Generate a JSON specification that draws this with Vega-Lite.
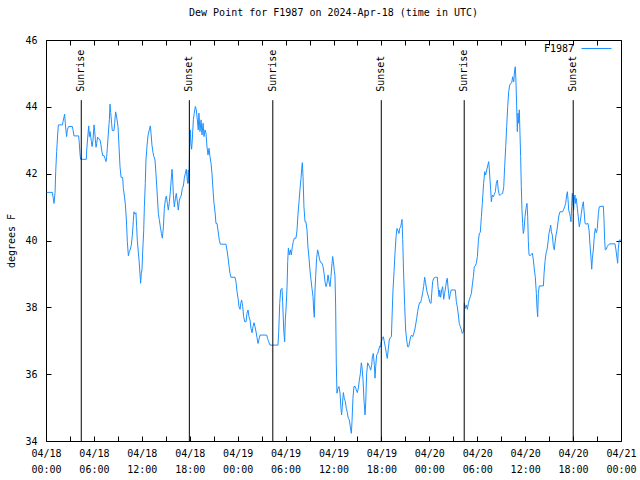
{
"$schema": "https://vega.github.io/schema/vega-lite/v6.json",
"width": 575, "height": 401,
"autosize": "none",
"padding": {"left": 46, "top": 40, "right": 19, "bottom": 39},
"background": "white",
"title": {"text": "Dew Point for F1987 on 2024-Apr-18 (time in UTC)", "font": "DejaVu Sans Mono", "fontSize": 10, "fontWeight": "normal", "offset": 15, "color": "black", "anchor": "middle"},
"config": {
 "view": {"stroke": "black", "strokeWidth": 1},
 "axis": {"grid": false, "domain": false, "tickColor": "black", "tickSize": -5, "tickWidth": 1, "labelFont": "DejaVu Sans Mono", "labelFontSize": 10, "labelColor": "black", "titleFont": "DejaVu Sans Mono", "titleFontSize": 10, "titleFontWeight": "normal", "titleColor": "black"}
},
"datasets": {
 "sun": [{"event": "Sunrise", "minute": 265}, {"event": "Sunset", "minute": 1077}, {"event": "Sunrise", "minute": 1704}, {"event": "Sunset", "minute": 2519}, {"event": "Sunrise", "minute": 3142}, {"event": "Sunset", "minute": 3961}],
 "dew": [
{"minute":5,"dewpoint":41.44},{"minute":48,"dewpoint":41.44},{"minute":60,"dewpoint":41.11},{"minute":68,"dewpoint":41.44},{"minute":73,"dewpoint":42.06},{"minute":80,"dewpoint":42.66},{"minute":88,"dewpoint":43.19},{"minute":93,"dewpoint":43.46},{"minute":123,"dewpoint":43.46},{"minute":128,"dewpoint":43.56},{"minute":135,"dewpoint":43.69},{"minute":140,"dewpoint":43.78},{"minute":145,"dewpoint":43.51},{"minute":150,"dewpoint":43.29},{"minute":155,"dewpoint":43.11},{"minute":160,"dewpoint":43.31},{"minute":170,"dewpoint":43.41},{"minute":198,"dewpoint":43.41},{"minute":203,"dewpoint":43.31},{"minute":210,"dewpoint":43.13},{"minute":245,"dewpoint":43.13},{"minute":250,"dewpoint":42.93},{"minute":255,"dewpoint":42.61},{"minute":260,"dewpoint":42.43},{"minute":303,"dewpoint":42.43},{"minute":306,"dewpoint":42.71},{"minute":316,"dewpoint":43.21},{"minute":321,"dewpoint":43.43},{"minute":326,"dewpoint":43.11},{"minute":331,"dewpoint":43.26},{"minute":341,"dewpoint":42.96},{"minute":346,"dewpoint":42.81},{"minute":353,"dewpoint":43.01},{"minute":361,"dewpoint":43.46},{"minute":366,"dewpoint":43.26},{"minute":371,"dewpoint":43.01},{"minute":376,"dewpoint":42.79},{"minute":381,"dewpoint":42.91},{"minute":388,"dewpoint":43.09},{"minute":398,"dewpoint":43.04},{"minute":406,"dewpoint":43.01},{"minute":413,"dewpoint":42.86},{"minute":418,"dewpoint":42.71},{"minute":426,"dewpoint":42.54},{"minute":436,"dewpoint":42.54},{"minute":443,"dewpoint":42.46},{"minute":451,"dewpoint":42.36},{"minute":456,"dewpoint":42.51},{"minute":461,"dewpoint":42.79},{"minute":468,"dewpoint":43.19},{"minute":476,"dewpoint":43.61},{"minute":481,"dewpoint":44.08},{"minute":486,"dewpoint":43.83},{"minute":493,"dewpoint":43.51},{"minute":498,"dewpoint":43.29},{"minute":511,"dewpoint":43.29},{"minute":516,"dewpoint":43.51},{"minute":523,"dewpoint":43.85},{"minute":531,"dewpoint":43.69},{"minute":541,"dewpoint":43.41},{"minute":548,"dewpoint":42.86},{"minute":556,"dewpoint":42.21},{"minute":564,"dewpoint":41.89},{"minute":576,"dewpoint":41.89},{"minute":581,"dewpoint":41.56},{"minute":589,"dewpoint":41.33},{"minute":596,"dewpoint":41.09},{"minute":604,"dewpoint":40.61},{"minute":611,"dewpoint":39.97},{"minute":619,"dewpoint":39.54},{"minute":626,"dewpoint":39.67},{"minute":634,"dewpoint":39.74},{"minute":641,"dewpoint":39.87},{"minute":649,"dewpoint":40.17},{"minute":656,"dewpoint":40.59},{"minute":661,"dewpoint":40.86},{"minute":669,"dewpoint":40.79},{"minute":676,"dewpoint":40.83},{"minute":681,"dewpoint":40.41},{"minute":686,"dewpoint":40.01},{"minute":694,"dewpoint":39.63},{"minute":699,"dewpoint":39.42},{"minute":706,"dewpoint":39.0},{"minute":711,"dewpoint":38.72},{"minute":716,"dewpoint":39.02},{"minute":721,"dewpoint":39.12},{"minute":726,"dewpoint":39.63},{"minute":734,"dewpoint":40.29},
{"minute":739,"dewpoint":41.01},{"minute":746,"dewpoint":41.71},{"minute":751,"dewpoint":42.41},{"minute":759,"dewpoint":42.83},{"minute":766,"dewpoint":43.13},{"minute":776,"dewpoint":43.31},{"minute":784,"dewpoint":43.43},{"minute":789,"dewpoint":43.21},{"minute":796,"dewpoint":42.86},{"minute":804,"dewpoint":42.63},{"minute":811,"dewpoint":42.51},{"minute":819,"dewpoint":42.41},{"minute":826,"dewpoint":42.01},{"minute":836,"dewpoint":41.36},{"minute":844,"dewpoint":40.81},{"minute":851,"dewpoint":40.63},{"minute":859,"dewpoint":40.41},{"minute":867,"dewpoint":40.21},{"minute":874,"dewpoint":40.07},{"minute":882,"dewpoint":40.41},{"minute":889,"dewpoint":40.96},{"minute":897,"dewpoint":41.23},{"minute":904,"dewpoint":41.33},{"minute":912,"dewpoint":41.11},{"minute":919,"dewpoint":40.91},{"minute":927,"dewpoint":41.16},{"minute":934,"dewpoint":41.46},{"minute":942,"dewpoint":41.89},{"minute":947,"dewpoint":42.13},{"minute":952,"dewpoint":41.81},{"minute":957,"dewpoint":41.36},{"minute":964,"dewpoint":41.01},{"minute":972,"dewpoint":41.26},{"minute":979,"dewpoint":41.41},{"minute":987,"dewpoint":41.16},{"minute":994,"dewpoint":40.91},{"minute":1002,"dewpoint":41.21},{"minute":1009,"dewpoint":41.29},{"minute":1017,"dewpoint":41.36},{"minute":1024,"dewpoint":41.56},{"minute":1032,"dewpoint":41.63},{"minute":1039,"dewpoint":41.86},{"minute":1047,"dewpoint":42.01},{"minute":1054,"dewpoint":42.13},{"minute":1059,"dewpoint":41.91},{"minute":1064,"dewpoint":41.71},{"minute":1069,"dewpoint":42.11},{"minute":1074,"dewpoint":41.71},{"minute":1079,"dewpoint":42.71},{"minute":1084,"dewpoint":43.31},{"minute":1089,"dewpoint":42.91},{"minute":1094,"dewpoint":42.73},{"minute":1099,"dewpoint":43.01},{"minute":1107,"dewpoint":43.61},{"minute":1114,"dewpoint":43.81},{"minute":1122,"dewpoint":44.01},{"minute":1129,"dewpoint":43.91},{"minute":1137,"dewpoint":43.61},{"minute":1144,"dewpoint":43.31},{"minute":1149,"dewpoint":43.81},{"minute":1157,"dewpoint":43.26},{"minute":1165,"dewpoint":43.61},{"minute":1172,"dewpoint":43.16},{"minute":1180,"dewpoint":43.51},{"minute":1187,"dewpoint":43.11},{"minute":1195,"dewpoint":43.31},{"minute":1202,"dewpoint":43.21},{"minute":1210,"dewpoint":42.79},{"minute":1217,"dewpoint":42.56},{"minute":1225,"dewpoint":42.76},{"minute":1232,"dewpoint":42.51},{"minute":1240,"dewpoint":42.31},{"minute":1247,"dewpoint":42.01},{"minute":1255,"dewpoint":41.51},{"minute":1262,"dewpoint":41.11},{"minute":1270,"dewpoint":40.86},{"minute":1277,"dewpoint":40.51},{"minute":1285,"dewpoint":40.51},{"minute":1292,"dewpoint":40.31},{"minute":1302,"dewpoint":40.01},{"minute":1310,"dewpoint":39.89},{"minute":1352,"dewpoint":39.89},{"minute":1360,"dewpoint":39.71},{"minute":1367,"dewpoint":39.51},{"minute":1375,"dewpoint":39.24},{"minute":1382,"dewpoint":39.02},{"minute":1390,"dewpoint":38.9},{"minute":1420,"dewpoint":38.9},{"minute":1427,"dewpoint":38.77},
{"minute":1435,"dewpoint":38.47},{"minute":1443,"dewpoint":38.27},{"minute":1450,"dewpoint":38.02},{"minute":1458,"dewpoint":37.94},{"minute":1463,"dewpoint":38.12},{"minute":1470,"dewpoint":38.22},{"minute":1478,"dewpoint":38.02},{"minute":1485,"dewpoint":37.72},{"minute":1493,"dewpoint":37.57},{"minute":1503,"dewpoint":37.57},{"minute":1510,"dewpoint":37.82},{"minute":1518,"dewpoint":37.92},{"minute":1525,"dewpoint":37.72},{"minute":1533,"dewpoint":37.62},{"minute":1540,"dewpoint":37.37},{"minute":1548,"dewpoint":37.24},{"minute":1555,"dewpoint":37.42},{"minute":1563,"dewpoint":37.54},{"minute":1570,"dewpoint":37.42},{"minute":1578,"dewpoint":37.27},{"minute":1585,"dewpoint":37.1},{"minute":1593,"dewpoint":36.92},{"minute":1600,"dewpoint":37.04},{"minute":1608,"dewpoint":37.17},{"minute":1658,"dewpoint":37.17},{"minute":1665,"dewpoint":37.07},{"minute":1673,"dewpoint":36.97},{"minute":1683,"dewpoint":36.87},{"minute":1743,"dewpoint":36.87},{"minute":1748,"dewpoint":37.24},{"minute":1756,"dewpoint":38.12},{"minute":1763,"dewpoint":38.52},{"minute":1773,"dewpoint":38.57},{"minute":1778,"dewpoint":38.17},{"minute":1786,"dewpoint":37.32},{"minute":1793,"dewpoint":36.97},{"minute":1798,"dewpoint":37.62},{"minute":1803,"dewpoint":37.92},{"minute":1811,"dewpoint":38.62},{"minute":1816,"dewpoint":39.37},{"minute":1821,"dewpoint":39.77},{"minute":1828,"dewpoint":39.57},{"minute":1836,"dewpoint":39.72},{"minute":1843,"dewpoint":39.57},{"minute":1851,"dewpoint":39.82},{"minute":1858,"dewpoint":39.97},{"minute":1866,"dewpoint":40.07},{"minute":1878,"dewpoint":40.07},{"minute":1886,"dewpoint":40.31},{"minute":1893,"dewpoint":40.79},{"minute":1901,"dewpoint":41.16},{"minute":1908,"dewpoint":41.53},{"minute":1916,"dewpoint":41.86},{"minute":1921,"dewpoint":42.16},{"minute":1926,"dewpoint":42.33},{"minute":1931,"dewpoint":41.91},{"minute":1938,"dewpoint":41.01},{"minute":1946,"dewpoint":40.56},{"minute":1953,"dewpoint":40.56},{"minute":1961,"dewpoint":40.31},{"minute":1968,"dewpoint":39.81},{"minute":1976,"dewpoint":39.47},{"minute":1983,"dewpoint":39.12},{"minute":1991,"dewpoint":38.82},{"minute":1998,"dewpoint":38.57},{"minute":2006,"dewpoint":38.32},{"minute":2011,"dewpoint":37.92},{"minute":2016,"dewpoint":37.7},{"minute":2021,"dewpoint":38.52},{"minute":2026,"dewpoint":38.92},{"minute":2033,"dewpoint":39.47},{"minute":2041,"dewpoint":39.72},{"minute":2049,"dewpoint":39.57},{"minute":2056,"dewpoint":39.42},{"minute":2064,"dewpoint":39.34},{"minute":2074,"dewpoint":39.32},{"minute":2081,"dewpoint":39.22},{"minute":2089,"dewpoint":39.02},{"minute":2096,"dewpoint":38.77},{"minute":2104,"dewpoint":38.62},{"minute":2111,"dewpoint":38.72},{"minute":2119,"dewpoint":38.97},{"minute":2126,"dewpoint":38.77},{"minute":2134,"dewpoint":38.62},{"minute":2141,"dewpoint":38.92},{"minute":2149,"dewpoint":39.32},{"minute":2154,"dewpoint":39.52},{"minute":2159,"dewpoint":39.37},{"minute":2166,"dewpoint":39.1},{"minute":2171,"dewpoint":38.94},{"minute":2176,"dewpoint":38.07},
{"minute":2181,"dewpoint":36.33},{"minute":2186,"dewpoint":35.43},{"minute":2194,"dewpoint":35.58},{"minute":2201,"dewpoint":35.63},{"minute":2209,"dewpoint":35.43},{"minute":2216,"dewpoint":34.98},{"minute":2221,"dewpoint":34.78},{"minute":2226,"dewpoint":35.03},{"minute":2234,"dewpoint":35.45},{"minute":2241,"dewpoint":35.28},{"minute":2249,"dewpoint":35.18},{"minute":2256,"dewpoint":34.98},{"minute":2264,"dewpoint":34.85},{"minute":2271,"dewpoint":34.68},{"minute":2279,"dewpoint":34.63},{"minute":2286,"dewpoint":34.43},{"minute":2294,"dewpoint":34.23},{"minute":2299,"dewpoint":34.58},{"minute":2306,"dewpoint":35.28},{"minute":2314,"dewpoint":35.63},{"minute":2324,"dewpoint":35.63},{"minute":2331,"dewpoint":35.53},{"minute":2339,"dewpoint":35.45},{"minute":2347,"dewpoint":35.58},{"minute":2354,"dewpoint":35.82},{"minute":2362,"dewpoint":36.02},{"minute":2369,"dewpoint":36.34},{"minute":2374,"dewpoint":36.22},{"minute":2382,"dewpoint":35.82},{"minute":2389,"dewpoint":35.23},{"minute":2397,"dewpoint":34.78},{"minute":2402,"dewpoint":35.13},{"minute":2409,"dewpoint":36.02},{"minute":2417,"dewpoint":36.34},{"minute":2424,"dewpoint":36.27},{"minute":2432,"dewpoint":36.22},{"minute":2439,"dewpoint":36.12},{"minute":2447,"dewpoint":36.27},{"minute":2452,"dewpoint":36.52},{"minute":2459,"dewpoint":36.62},{"minute":2467,"dewpoint":36.27},{"minute":2472,"dewpoint":35.88},{"minute":2477,"dewpoint":36.22},{"minute":2484,"dewpoint":36.57},{"minute":2492,"dewpoint":36.62},{"minute":2499,"dewpoint":36.72},{"minute":2507,"dewpoint":36.84},{"minute":2514,"dewpoint":36.82},{"minute":2519,"dewpoint":36.97},{"minute":2527,"dewpoint":37.07},{"minute":2534,"dewpoint":37.12},{"minute":2542,"dewpoint":36.97},{"minute":2549,"dewpoint":36.82},{"minute":2557,"dewpoint":36.62},{"minute":2564,"dewpoint":36.47},{"minute":2572,"dewpoint":36.77},{"minute":2579,"dewpoint":37.02},{"minute":2587,"dewpoint":37.1},{"minute":2595,"dewpoint":37.12},{"minute":2600,"dewpoint":37.72},{"minute":2607,"dewpoint":38.52},{"minute":2615,"dewpoint":39.07},{"minute":2622,"dewpoint":39.62},{"minute":2630,"dewpoint":40.11},{"minute":2637,"dewpoint":40.36},{"minute":2645,"dewpoint":40.29},{"minute":2652,"dewpoint":40.21},{"minute":2657,"dewpoint":40.36},{"minute":2665,"dewpoint":40.41},{"minute":2670,"dewpoint":40.53},{"minute":2675,"dewpoint":40.63},{"minute":2680,"dewpoint":40.03},{"minute":2687,"dewpoint":38.97},{"minute":2695,"dewpoint":38.02},{"minute":2702,"dewpoint":37.32},{"minute":2710,"dewpoint":37.02},{"minute":2717,"dewpoint":36.82},{"minute":2725,"dewpoint":36.82},{"minute":2732,"dewpoint":36.97},{"minute":2740,"dewpoint":37.12},{"minute":2747,"dewpoint":37.17},{"minute":2755,"dewpoint":37.12},{"minute":2762,"dewpoint":37.2},{"minute":2770,"dewpoint":37.32},{"minute":2777,"dewpoint":37.47},{"minute":2785,"dewpoint":37.67},{"minute":2792,"dewpoint":37.87},{"minute":2800,"dewpoint":38.04},{"minute":2807,"dewpoint":38.14},{"minute":2815,"dewpoint":38.14},{"minute":2822,"dewpoint":38.27},{"minute":2830,"dewpoint":38.44},{"minute":2837,"dewpoint":38.62},{"minute":2845,"dewpoint":38.9},{"minute":2852,"dewpoint":38.74},{"minute":2860,"dewpoint":38.52},{"minute":2867,"dewpoint":38.4},
{"minute":2877,"dewpoint":38.27},{"minute":2885,"dewpoint":38.14},{"minute":2893,"dewpoint":38.12},{"minute":2898,"dewpoint":38.42},{"minute":2905,"dewpoint":38.77},{"minute":2913,"dewpoint":38.87},{"minute":2925,"dewpoint":38.9},{"minute":2940,"dewpoint":38.9},{"minute":2945,"dewpoint":38.62},{"minute":2953,"dewpoint":38.32},{"minute":2958,"dewpoint":38.52},{"minute":2965,"dewpoint":38.3},{"minute":2973,"dewpoint":38.52},{"minute":2980,"dewpoint":38.62},{"minute":2988,"dewpoint":38.24},{"minute":2995,"dewpoint":38.42},{"minute":3003,"dewpoint":38.62},{"minute":3010,"dewpoint":38.82},{"minute":3015,"dewpoint":38.87},{"minute":3020,"dewpoint":38.62},{"minute":3025,"dewpoint":38.42},{"minute":3030,"dewpoint":38.24},{"minute":3038,"dewpoint":38.42},{"minute":3045,"dewpoint":38.52},{"minute":3075,"dewpoint":38.52},{"minute":3083,"dewpoint":38.17},{"minute":3090,"dewpoint":38.02},{"minute":3098,"dewpoint":37.77},{"minute":3105,"dewpoint":37.52},{"minute":3113,"dewpoint":37.42},{"minute":3120,"dewpoint":37.34},{"minute":3128,"dewpoint":37.22},{"minute":3136,"dewpoint":37.27},{"minute":3140,"dewpoint":37.42},{"minute":3143,"dewpoint":38.12},{"minute":3151,"dewpoint":37.97},{"minute":3158,"dewpoint":38.07},{"minute":3166,"dewpoint":37.94},{"minute":3173,"dewpoint":38.12},{"minute":3181,"dewpoint":38.24},{"minute":3188,"dewpoint":38.32},{"minute":3196,"dewpoint":38.42},{"minute":3203,"dewpoint":38.67},{"minute":3211,"dewpoint":38.92},{"minute":3218,"dewpoint":39.22},{"minute":3226,"dewpoint":39.24},{"minute":3233,"dewpoint":39.32},{"minute":3241,"dewpoint":39.52},{"minute":3248,"dewpoint":39.97},{"minute":3256,"dewpoint":40.22},{"minute":3263,"dewpoint":40.24},{"minute":3271,"dewpoint":40.71},{"minute":3278,"dewpoint":41.11},{"minute":3283,"dewpoint":41.41},{"minute":3288,"dewpoint":41.71},{"minute":3296,"dewpoint":42.06},{"minute":3303,"dewpoint":41.96},{"minute":3311,"dewpoint":42.11},{"minute":3318,"dewpoint":42.23},{"minute":3326,"dewpoint":42.36},{"minute":3331,"dewpoint":42.11},{"minute":3336,"dewpoint":41.81},{"minute":3341,"dewpoint":41.51},{"minute":3346,"dewpoint":41.16},{"minute":3353,"dewpoint":41.36},{"minute":3361,"dewpoint":41.31},{"minute":3368,"dewpoint":41.38},{"minute":3376,"dewpoint":41.46},{"minute":3383,"dewpoint":41.71},{"minute":3391,"dewpoint":41.81},{"minute":3398,"dewpoint":41.51},{"minute":3406,"dewpoint":41.36},{"minute":3413,"dewpoint":41.36},{"minute":3421,"dewpoint":41.39},{"minute":3431,"dewpoint":41.41},{"minute":3439,"dewpoint":41.61},{"minute":3446,"dewpoint":42.21},{"minute":3454,"dewpoint":42.81},{"minute":3461,"dewpoint":43.41},{"minute":3469,"dewpoint":44.01},{"minute":3476,"dewpoint":44.45},{"minute":3484,"dewpoint":44.65},{"minute":3491,"dewpoint":44.7},{"minute":3499,"dewpoint":44.72},{"minute":3506,"dewpoint":44.9},{"minute":3514,"dewpoint":44.75},{"minute":3521,"dewpoint":45.1},{"minute":3526,"dewpoint":45.2},{"minute":3531,"dewpoint":44.75},{"minute":3536,"dewpoint":44.05},{"minute":3541,"dewpoint":43.26},{"minute":3546,"dewpoint":43.81},{"minute":3551,"dewpoint":43.51},{"minute":3556,"dewpoint":43.91},{"minute":3561,"dewpoint":43.21},{"minute":3566,"dewpoint":42.51},{"minute":3571,"dewpoint":41.61},{"minute":3576,"dewpoint":40.91},{"minute":3581,"dewpoint":40.51},{"minute":3586,"dewpoint":40.21},
{"minute":3591,"dewpoint":40.31},{"minute":3599,"dewpoint":40.71},{"minute":3606,"dewpoint":40.96},{"minute":3614,"dewpoint":41.11},{"minute":3619,"dewpoint":40.71},{"minute":3624,"dewpoint":39.96},{"minute":3629,"dewpoint":39.57},{"minute":3636,"dewpoint":39.54},{"minute":3654,"dewpoint":39.62},{"minute":3661,"dewpoint":39.44},{"minute":3669,"dewpoint":39.12},{"minute":3676,"dewpoint":38.92},{"minute":3684,"dewpoint":38.42},{"minute":3689,"dewpoint":37.97},{"minute":3694,"dewpoint":37.72},{"minute":3699,"dewpoint":38.42},{"minute":3706,"dewpoint":38.64},{"minute":3737,"dewpoint":38.64},{"minute":3742,"dewpoint":39.02},{"minute":3749,"dewpoint":39.37},{"minute":3757,"dewpoint":39.62},{"minute":3764,"dewpoint":39.72},{"minute":3772,"dewpoint":39.96},{"minute":3779,"dewpoint":40.21},{"minute":3787,"dewpoint":40.36},{"minute":3792,"dewpoint":40.46},{"minute":3797,"dewpoint":40.26},{"minute":3804,"dewpoint":40.16},{"minute":3812,"dewpoint":39.82},{"minute":3819,"dewpoint":39.72},{"minute":3824,"dewpoint":39.92},{"minute":3832,"dewpoint":40.17},{"minute":3839,"dewpoint":40.31},{"minute":3847,"dewpoint":40.56},{"minute":3854,"dewpoint":40.76},{"minute":3862,"dewpoint":40.86},{"minute":3882,"dewpoint":40.86},{"minute":3889,"dewpoint":40.93},{"minute":3897,"dewpoint":41.01},{"minute":3904,"dewpoint":41.11},{"minute":3912,"dewpoint":41.36},{"minute":3917,"dewpoint":41.46},{"minute":3922,"dewpoint":41.23},{"minute":3927,"dewpoint":40.91},{"minute":3934,"dewpoint":40.81},{"minute":3939,"dewpoint":40.71},{"minute":3944,"dewpoint":40.56},{"minute":3949,"dewpoint":41.01},{"minute":3954,"dewpoint":41.41},{"minute":3959,"dewpoint":41.16},{"minute":3964,"dewpoint":40.91},{"minute":3969,"dewpoint":41.21},{"minute":3974,"dewpoint":41.36},{"minute":3979,"dewpoint":41.11},{"minute":3984,"dewpoint":41.26},{"minute":3992,"dewpoint":40.96},{"minute":3999,"dewpoint":40.71},{"minute":4007,"dewpoint":40.41},{"minute":4014,"dewpoint":40.56},{"minute":4022,"dewpoint":40.81},{"minute":4029,"dewpoint":41.01},{"minute":4037,"dewpoint":41.16},{"minute":4042,"dewpoint":40.91},{"minute":4050,"dewpoint":40.51},{"minute":4057,"dewpoint":40.49},{"minute":4072,"dewpoint":40.51},{"minute":4080,"dewpoint":40.31},{"minute":4087,"dewpoint":39.87},{"minute":4095,"dewpoint":39.47},{"minute":4100,"dewpoint":39.14},{"minute":4105,"dewpoint":39.47},{"minute":4112,"dewpoint":39.72},{"minute":4120,"dewpoint":40.17},{"minute":4127,"dewpoint":40.36},{"minute":4135,"dewpoint":40.23},{"minute":4142,"dewpoint":40.36},{"minute":4150,"dewpoint":40.81},{"minute":4157,"dewpoint":41.01},{"minute":4187,"dewpoint":41.03},{"minute":4192,"dewpoint":40.66},{"minute":4197,"dewpoint":40.01},{"minute":4202,"dewpoint":39.72},{"minute":4210,"dewpoint":39.74},{"minute":4217,"dewpoint":39.82},{"minute":4225,"dewpoint":39.87},{"minute":4237,"dewpoint":39.9},{"minute":4275,"dewpoint":39.9},{"minute":4282,"dewpoint":39.72},{"minute":4290,"dewpoint":39.47},{"minute":4295,"dewpoint":39.32},{"minute":4300,"dewpoint":39.77},{"minute":4307,"dewpoint":40.01},{"minute":4320,"dewpoint":40.01}
 ]
},
"layer": [
 {
  "data": {"name": "dew"},
  "mark": {"type": "line", "strokeWidth": 1, "clip": true},
  "encoding": {
   "x": {"field": "minute", "type": "quantitative", "scale": {"domain": [0, 4320], "nice": false, "zero": false},
    "axis": {"orient": "bottom", "title": null, "values": [0,180,360,540,720,900,1080,1260,1440,1620,1800,1980,2160,2340,2520,2700,2880,3060,3240,3420,3600,3780,3960,4140,4320], "labelExpr": "datum.value % 360 == 0 ? ['04/' + (18 + floor(datum.value / 1440)), (floor((datum.value % 1440) / 60) < 10 ? '0' : '') + floor((datum.value % 1440) / 60) + ':00'] : ''", "labelLineHeight": 16, "labelPadding": 12, "labelFlush": false, "labelOverlap": false}},
   "y": {"field": "dewpoint", "type": "quantitative", "scale": {"domain": [34, 46], "nice": false, "zero": false},
    "axis": {"orient": "left", "title": "degrees F", "values": [34,36,38,40,42,44,46], "format": "d", "labelPadding": 14, "titlePadding": 8}},
   "color": {"datum": "F1987", "type": "nominal", "scale": {"range": ["#1E90FF"]},
    "legend": {"title": null, "orient": "none", "legendX": 535, "legendY": -7, "symbolType": "stroke", "symbolSize": 900, "symbolStrokeWidth": 1, "labelFont": "DejaVu Sans Mono", "labelFontSize": 10, "labelColor": "black", "labelAlign": "right", "labelOffset": -38}}
  }
 },
 {
  "data": {"name": "sun"},
  "mark": {"type": "rule", "color": "black", "strokeWidth": 1},
  "encoding": {
   "x": {"field": "minute", "type": "quantitative", "scale": {"domain": [0, 4320], "nice": false, "zero": false},
    "axis": {"orient": "top", "title": null, "labels": false, "values": [0,180,360,540,720,900,1080,1260,1440,1620,1800,1980,2160,2340,2520,2700,2880,3060,3240,3420,3600,3780,3960,4140,4320]}},
   "y": {"datum": 34, "type": "quantitative", "scale": {"domain": [34, 46], "nice": false, "zero": false},
    "axis": {"orient": "right", "title": null, "labels": false, "values": [34,36,38,40,42,44,46]}},
   "y2": {"datum": 44.2}
  }
 },
 {
  "data": {"name": "sun"},
  "mark": {"type": "text", "angle": 270, "align": "left", "baseline": "middle", "font": "DejaVu Sans Mono", "fontSize": 10, "color": "black"},
  "encoding": {
   "x": {"field": "minute", "type": "quantitative", "axis": null},
   "y": {"datum": 44.45, "type": "quantitative", "axis": null},
   "text": {"field": "event"}
  }
 }
],
"resolve": {"axis": {"x": "independent", "y": "independent"}}
}
